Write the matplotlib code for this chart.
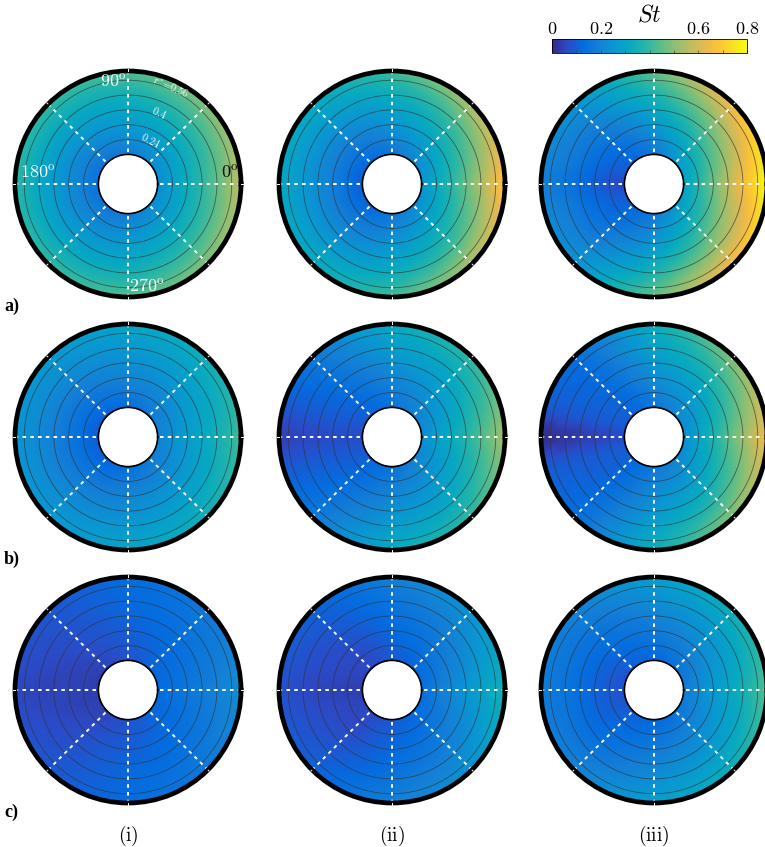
import numpy as np
import matplotlib
matplotlib.use("Agg")
import matplotlib.pyplot as plt
import matplotlib.tri as mtri
from matplotlib.colors import LinearSegmentedColormap
from matplotlib.transforms import offset_copy

plt.rcParams['mathtext.fontset'] = 'cm'
plt.rcParams['font.family'] = 'serif'

# --- Sampled St field: rows are radii, columns are angles (upper half, mirrored below) ---
theta_deg = np.array([0, 45, 90, 135, 165, 180])
r_nodes = np.array([0.16, 0.31, 0.46, 0.61])

st_a1 = np.array([[0.23, 0.21, 0.18, 0.16, 0.15, 0.15],
                  [0.33, 0.30, 0.26, 0.23, 0.22, 0.22],
                  [0.44, 0.39, 0.34, 0.31, 0.30, 0.30],
                  [0.57, 0.50, 0.44, 0.40, 0.39, 0.39]])
st_a2 = np.array([[0.25, 0.21, 0.16, 0.12, 0.10, 0.10],
                  [0.38, 0.31, 0.24, 0.19, 0.18, 0.18],
                  [0.52, 0.41, 0.32, 0.26, 0.25, 0.25],
                  [0.70, 0.55, 0.42, 0.33, 0.31, 0.31]])
st_a3 = np.array([[0.30, 0.25, 0.17, 0.11, 0.08, 0.05],
                  [0.46, 0.37, 0.25, 0.15, 0.12, 0.10],
                  [0.64, 0.50, 0.35, 0.20, 0.17, 0.15],
                  [0.80, 0.67, 0.46, 0.25, 0.21, 0.19]])
st_b1 = np.array([[0.20, 0.17, 0.14, 0.11, 0.10, 0.10],
                  [0.27, 0.23, 0.20, 0.17, 0.16, 0.16],
                  [0.34, 0.29, 0.25, 0.22, 0.21, 0.21],
                  [0.42, 0.35, 0.30, 0.26, 0.25, 0.25]])
st_b2 = np.array([[0.23, 0.19, 0.15, 0.11, 0.08, 0.07],
                  [0.32, 0.25, 0.20, 0.13, 0.09, 0.07],
                  [0.42, 0.32, 0.26, 0.15, 0.09, 0.06],
                  [0.53, 0.40, 0.32, 0.17, 0.09, 0.05]])
st_b3 = np.array([[0.24, 0.20, 0.16, 0.11, 0.09, 0.07],
                  [0.36, 0.28, 0.22, 0.12, 0.09, 0.05],
                  [0.50, 0.38, 0.28, 0.13, 0.09, 0.03],
                  [0.65, 0.50, 0.34, 0.14, 0.09, 0.01]])
st_c1 = np.array([[0.13, 0.11, 0.08, 0.05, 0.04, 0.04],
                  [0.16, 0.13, 0.10, 0.07, 0.05, 0.05],
                  [0.19, 0.15, 0.12, 0.08, 0.06, 0.05],
                  [0.23, 0.17, 0.13, 0.09, 0.07, 0.06]])
st_c2 = np.array([[0.15, 0.12, 0.09, 0.06, 0.05, 0.04],
                  [0.21, 0.16, 0.12, 0.07, 0.06, 0.05],
                  [0.28, 0.20, 0.15, 0.09, 0.07, 0.06],
                  [0.36, 0.25, 0.19, 0.11, 0.09, 0.08]])
st_c3 = np.array([[0.18, 0.15, 0.12, 0.10, 0.08, 0.08],
                  [0.26, 0.21, 0.17, 0.13, 0.11, 0.11],
                  [0.34, 0.27, 0.22, 0.16, 0.15, 0.15],
                  [0.44, 0.35, 0.28, 0.20, 0.18, 0.18]])

panels = [[st_a1, st_a2, st_a3],
          [st_b1, st_b2, st_b3],
          [st_c1, st_c2, st_c3]]
row_labels = ['a)', 'b)', 'c)']
col_labels = ['(i)', '(ii)', '(iii)']
ring_radii = [0.24, 0.32, 0.40, 0.48, 0.56]
spoke_deg = np.arange(0, 360, 45)
cbar_ticks = [0, 0.2, 0.6, 0.8]

r_hole, r_out = 0.16, 0.61

# parula-like colormap
parula_pts = [
    (0.2081, 0.1663, 0.5292), (0.1707, 0.2919, 0.7792), (0.0165, 0.4266, 0.8786),
    (0.0779, 0.5040, 0.8384), (0.0343, 0.5966, 0.8199), (0.0267, 0.6642, 0.7607),
    (0.1453, 0.7098, 0.6646), (0.3482, 0.7424, 0.5473), (0.5709, 0.7485, 0.4494),
    (0.7525, 0.7384, 0.3768), (0.9139, 0.7258, 0.3063), (0.9955, 0.7861, 0.1967),
    (0.9598, 0.9218, 0.0948), (0.9763, 0.9831, 0.0538)]
parula_pos = [0, 5, 10, 15, 20, 25, 30, 35, 40, 45, 50, 55, 60, 63]
parula = LinearSegmentedColormap.from_list(
    'parula', [(p / 63, c) for p, c in zip(parula_pos, parula_pts)])

W, H = 765, 847
fig = plt.figure(figsize=(W / 100, H / 100), dpi=100)

col_x = [128, 392, 654]
row_y = [184, 437, 690]
R = 113

# display grid for the smooth field
th_fine = np.linspace(1e-9, 2 * np.pi - 1e-9, 241)
r_fine = np.linspace(r_hole + 1e-9, r_out - 1e-9, 61)
TH_f, R_f = np.meshgrid(th_fine, r_fine)


def smooth_field(z):
    th = np.concatenate([theta_deg, 360 - theta_deg[-2::-1]])
    zz = np.hstack([z, z[:, -2::-1]])
    TH, RR = np.meshgrid(np.radians(th), r_nodes)
    nr, nt = TH.shape
    tris = []
    for i in range(nr - 1):
        for j in range(nt - 1):
            a = i * nt + j
            b, c, d = a + 1, a + nt, a + nt + 1
            tris += [[a, b, d], [a, d, c]]
    tri = mtri.Triangulation(TH.ravel(), RR.ravel(), np.array(tris))
    interp = mtri.CubicTriInterpolator(tri, zz.ravel(), kind='geom')
    return interp(TH_f, R_f)


circ = np.linspace(0, 2 * np.pi, 400)
for i, row in enumerate(panels):
    for j, z in enumerate(row):
        cx, cy = col_x[j], row_y[i]
        ax = fig.add_axes([(cx - R) / W, (H - cy - R) / H, 2 * R / W, 2 * R / H],
                          projection='polar')
        ax.pcolormesh(TH_f, R_f, smooth_field(z), shading='gouraud', cmap=parula,
                      vmin=0, vmax=0.8)
        for rr in ring_radii:
            ax.plot(circ, np.full_like(circ, rr), color='#333333', lw=0.6, alpha=0.7)
        for d in spoke_deg:
            t = np.radians(d)
            ax.plot([t, t], [r_hole + 0.012, r_out], color='white', lw=1.4,
                    ls=(0, (1.8, 2.2)))
            ax.plot([t, t], [r_out + 0.002, r_out + 0.009], color='white', lw=0.7,
                    zorder=5, clip_on=False)
        ax.plot(circ, np.full_like(circ, r_hole), color='black', lw=1.2)
        ax.set_ylim(0, r_out)
        ax.set_xticks([])
        ax.set_yticks([])
        ax.grid(False)
        ax.spines['polar'].set_linewidth(3.4)

        if i == 0 and j == 0:
            def deg_text(t_deg, r, s, ha, va, color='white', dx=0, dy=0):
                tr = offset_copy(ax.transData, fig=fig, x=dx, y=dy, units='points')
                ax.text(np.radians(t_deg), r, s, ha=ha, va=va, color=color,
                        fontsize=13, transform=tr)
            deg_text(90, 0.545, r'$90^{\mathrm{o}}$', 'right', 'center', dx=-1)
            deg_text(180, 0.585, r'$180^{\mathrm{o}}$', 'left', 'bottom', dy=1)
            deg_text(0, 0.598, r'$0^{\mathrm{o}}$', 'right', 'bottom', color='black', dy=1)
            deg_text(270, 0.55, r'$270^{\mathrm{o}}$', 'left', 'center', dx=1)
            for t_deg, rr, s in [(63, 0.265, r'$\mathit{0.24}$'),
                                 (66, 0.42, r'$\mathit{0.4}$'),
                                 (66, 0.575, r'$r^{*}\!=\!\mathit{0.56}$')]:
                ax.text(np.radians(t_deg), rr, s, color='white', fontsize=7.5,
                        rotation=t_deg - 90, ha='center', va='center',
                        rotation_mode='anchor')

    fig.text(4 / W, 1 - (row_y[i] + 122) / H, row_labels[i], fontsize=13,
             fontweight='bold', family='Liberation Serif', ha='left', va='center')

for j, lab in enumerate(col_labels):
    fig.text(col_x[j] / W, 1 - 836 / H, r'$\mathrm{%s}$' % lab, fontsize=14,
             ha='center', va='center')

# colour bar
cax = fig.add_axes([552 / W, (H - 53) / H, 195 / W, 14 / H])
sm = matplotlib.cm.ScalarMappable(cmap=parula, norm=plt.Normalize(0, 0.8))
cb = fig.colorbar(sm, cax=cax, orientation='horizontal')
cb.outline.set_linewidth(0.6)
cax.set_xticks(np.arange(0, 0.81, 0.1))
cax.tick_params(axis='x', direction='in', length=2.5, width=0.5, color='#444444',
                bottom=True, top=False, labelbottom=False, labeltop=False)
for v in cbar_ticks:
    cax.text(v, 1.75, r'$%g$' % v, transform=cax.get_xaxis_transform(),
             ha='center', va='center', fontsize=13)
cax.text(0.4, 2.75, r'$St$', transform=cax.get_xaxis_transform(),
         ha='center', va='center', fontsize=17)

fig.savefig('out.png', dpi=100)
